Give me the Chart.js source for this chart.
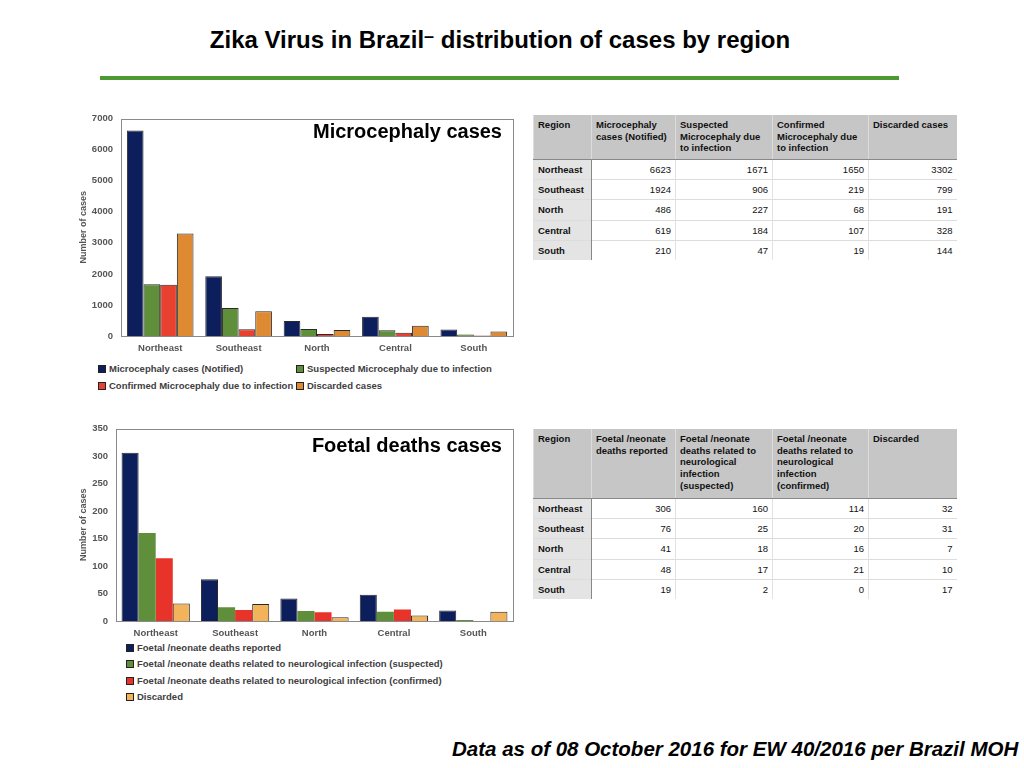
<!DOCTYPE html>
<html>
<head>
<meta charset="utf-8">
<script src="https://cdn.jsdelivr.net/npm/chart.js@4"></script>
<style>
  body { margin: 0; width: 1024px; height: 768px; background: #fff; font-family: "Liberation Sans", Arial, sans-serif; position: relative; overflow: hidden; }
  .abs { position: absolute; }
  #title { left: 0; width: 1000px; top: 26px; text-align: center; font-family: "Liberation Sans Narrow", "Arial Narrow", "Liberation Sans", sans-serif; font-stretch: condensed; font-weight: bold; font-size: 24px; color: #000; }
  #title .dash { position: relative; top: -6px; font-size: 18px; }
  #rule { left: 100px; top: 76px; width: 799px; height: 4px; background: #4b9a34; }
  #footer { left: 452px; top: 737px; font-weight: bold; font-style: italic; font-size: 20.5px; color: #000; white-space: nowrap; }
  .panel-title { font-weight: bold; font-size: 20px; color: #000; text-align: right; white-space: nowrap; }
  .legend { font-weight: bold; font-size: 9.5px; color: #404040; white-space: nowrap; }
  .legend .item { position: absolute; }
  .legend .box { display: inline-block; width: 6px; height: 6px; border: 1px solid #222; margin-right: 3px; vertical-align: -1px; }
  table { border-collapse: collapse; font-size: 9.5px; color: #111; table-layout: fixed; }
  th { background: #c6c6c6; font-weight: bold; text-align: left; vertical-align: top; padding: 4px 4px 0 4px; line-height: 11.7px; border-left: 1px solid #dcdcdc; }
  td { height: 19.4px; padding: 0 4px; text-align: right; border-top: 1px solid #dcdcdc; border-left: 1px solid #e2e2e2; }
  td.rg { background: #e4e4e4; font-weight: bold; text-align: left; border-right: 1px solid #888; }
  tr.head th { border-bottom: 1px solid #888; }
</style>
</head>
<body>
<div id="title" class="abs">Zika Virus in Brazil<span class="dash">–</span>  distribution of cases by region</div>
<div id="rule" class="abs"></div>

<canvas id="microChart" class="abs" style="left:70px;top:105px;"></canvas>
<div class="abs panel-title" style="right:522px;top:120px;">Microcephaly cases</div>
<div id="microLegend" class="abs legend" style="left:0;top:0;"></div>
<div id="microTable" class="abs" style="left:533px;top:115px;"></div>

<canvas id="foetalChart" class="abs" style="left:70px;top:415px;"></canvas>
<div class="abs panel-title" style="right:522px;top:434px;">Foetal deaths cases</div>
<div id="foetalLegend" class="abs legend" style="left:0;top:0;"></div>
<div id="foetalTable" class="abs" style="left:533px;top:429px;"></div>

<div id="footer" class="abs">Data as of 08 October 2016 for EW 40/2016 per Brazil MOH</div>

<script>
// regions on the x axis
const regions = ["Northeast", "Southeast", "North", "Central", "South"]

// microcephaly cases by region
const microNames = ["Microcephaly cases (Notified)", "Suspected Microcephaly due to infection", "Confirmed Microcephaly due to infection", "Discarded cases"]
const microHeaders = ["Region", "Microcephaly<br>cases (Notified)", "Suspected<br>Microcephaly due<br>to infection", "Confirmed<br>Microcephaly due<br>to infection", "Discarded cases"]
const microNotified = [6623, 1924, 486, 619, 210]
const microSuspected = [1671, 906, 227, 184, 47]
const microConfirmed = [1650, 219, 68, 107, 19]
const microDiscarded = [3302, 799, 191, 328, 144]
const microTicks = [0, 1000, 2000, 3000, 4000, 5000, 6000, 7000]

// foetal / neonate deaths by region
const foetalNames = ["Foetal /neonate deaths reported", "Foetal /neonate deaths related to neurological infection (suspected)", "Foetal /neonate deaths related to neurological infection (confirmed)", "Discarded"]
const foetalHeaders = ["Region", "Foetal /neonate<br>deaths reported", "Foetal /neonate<br>deaths related to<br>neurological<br>infection<br>(suspected)", "Foetal /neonate<br>deaths related to<br>neurological<br>infection<br>(confirmed)", "Discarded"]
const foetalReported = [306, 76, 41, 48, 19]
const foetalSuspected = [160, 25, 18, 17, 2]
const foetalConfirmed = [114, 20, 16, 21, 0]
const foetalDiscarded = [32, 31, 7, 10, 17]
const foetalTicks = [0, 50, 100, 150, 200, 250, 300, 350]

const microColors = ["#0c1f5c", "#5f8f3b", "#e8412f", "#dd8a33"]
const foetalColors = ["#0c1f5c", "#5f8f3b", "#e8332a", "#f2b35b"]
const colWidths = [58, 84, 97, 96, 88]

// draws the gray frame round the plot area
const frameBox = {
    id: "frameBox",
    afterDraw(chart) {
        const a = chart.chartArea
        const ctx = chart.ctx
        ctx.save()
        ctx.strokeStyle = "#8a8a8a"
        ctx.lineWidth = 1
        ctx.strokeRect(Math.round(a.left) + 0.5, Math.round(a.top) + 0.5, Math.round(a.right - a.left), Math.round(a.bottom - a.top))
        ctx.restore()
    }
}

function makeBarChart(canvasId, width, height, yWidth, series, names, colors, ticks, catPct, borders) {
    const canvas = document.getElementById(canvasId)
    canvas.width = width
    canvas.height = height
    canvas.style.width = width + "px"
    canvas.style.height = height + "px"
    const datasets = []
    for (let i = 0; i < series.length; i++) {
        datasets.push({
            label: names[i],
            data: series[i],
            backgroundColor: colors[i],
            borderColor: "#2a2a2a",
            borderWidth: borders[i],
            barPercentage: 1.0,
            categoryPercentage: catPct
        })
    }
    const tickFont = { family: "Liberation Sans", weight: "bold", size: 9.5 }
    return new Chart(canvas, {
        type: "bar",
        data: { labels: regions, datasets: datasets },
        options: {
            responsive: false,
            animation: false,
            devicePixelRatio: 1,
            layout: { padding: { top: 11, right: 7, left: 0, bottom: 0 } },
            plugins: { legend: { display: false }, tooltip: { enabled: false } },
            scales: {
                x: {
                    grid: { display: false, drawTicks: false },
                    border: { display: false },
                    ticks: { font: tickFont, color: "#555", padding: 7 },
                    afterFit(scale) { scale.height = 20 }
                },
                y: {
                    min: ticks[0],
                    max: ticks[ticks.length - 1],
                    afterBuildTicks(scale) { scale.ticks = ticks.map(v => ({ value: v })) },
                    grid: { display: false, drawTicks: false },
                    border: { display: false },
                    ticks: { font: tickFont, color: "#555", padding: 8, callback: v => String(v) },
                    title: { display: true, text: "Number of cases", color: "#555", padding: { top: 8, bottom: 0 },
                             font: { family: "Liberation Sans", weight: "bold", size: 9 } },
                    afterFit(scale) { scale.width = yWidth }
                }
            }
        },
        plugins: [frameBox]
    })
}

function makeLegend(divId, names, colors, positions) {
    const div = document.getElementById(divId)
    let html = ""
    for (let i = 0; i < names.length; i++) {
        html += '<div class="item" style="left:' + positions[i][0] + 'px;top:' + positions[i][1] + 'px;">' +
                '<span class="box" style="background:' + colors[i] + '"></span>' + names[i] + '</div>'
    }
    div.innerHTML = html
}

function makeTable(divId, headers, series, headHeight) {
    let html = '<table><colgroup>'
    for (let w of colWidths) { html += '<col style="width:' + w + 'px">' }
    html += '</colgroup><tr class="head" style="height:' + headHeight + 'px">'
    for (let h of headers) { html += '<th>' + h + '</th>' }
    html += '</tr>'
    for (let r = 0; r < regions.length; r++) {
        html += '<tr><td class="rg">' + regions[r] + '</td>'
        for (let s = 0; s < series.length; s++) { html += '<td>' + series[s][r] + '</td>' }
        html += '</tr>'
    }
    html += '</table>'
    document.getElementById(divId).innerHTML = html
}

const microSeries = [microNotified, microSuspected, microConfirmed, microDiscarded]
const foetalSeries = [foetalReported, foetalSuspected, foetalConfirmed, foetalDiscarded]

makeBarChart("microChart", 450, 251, 51, microSeries, microNames, microColors, microTicks, 0.85, [1, 1, 1, 1])
makeBarChart("foetalChart", 450, 226, 46, foetalSeries, foetalNames, foetalColors, foetalTicks, 0.86, [1, 0, 0, 1])

makeLegend("microLegend", microNames, microColors, [[98, 363], [296, 363], [98, 380], [296, 380]])
makeLegend("foetalLegend", foetalNames, foetalColors, [[126, 642], [126, 658], [126, 675], [126, 691]])

makeTable("microTable", microHeaders, microSeries, 44)
makeTable("foetalTable", foetalHeaders, foetalSeries, 69)
</script>
</body>
</html>
